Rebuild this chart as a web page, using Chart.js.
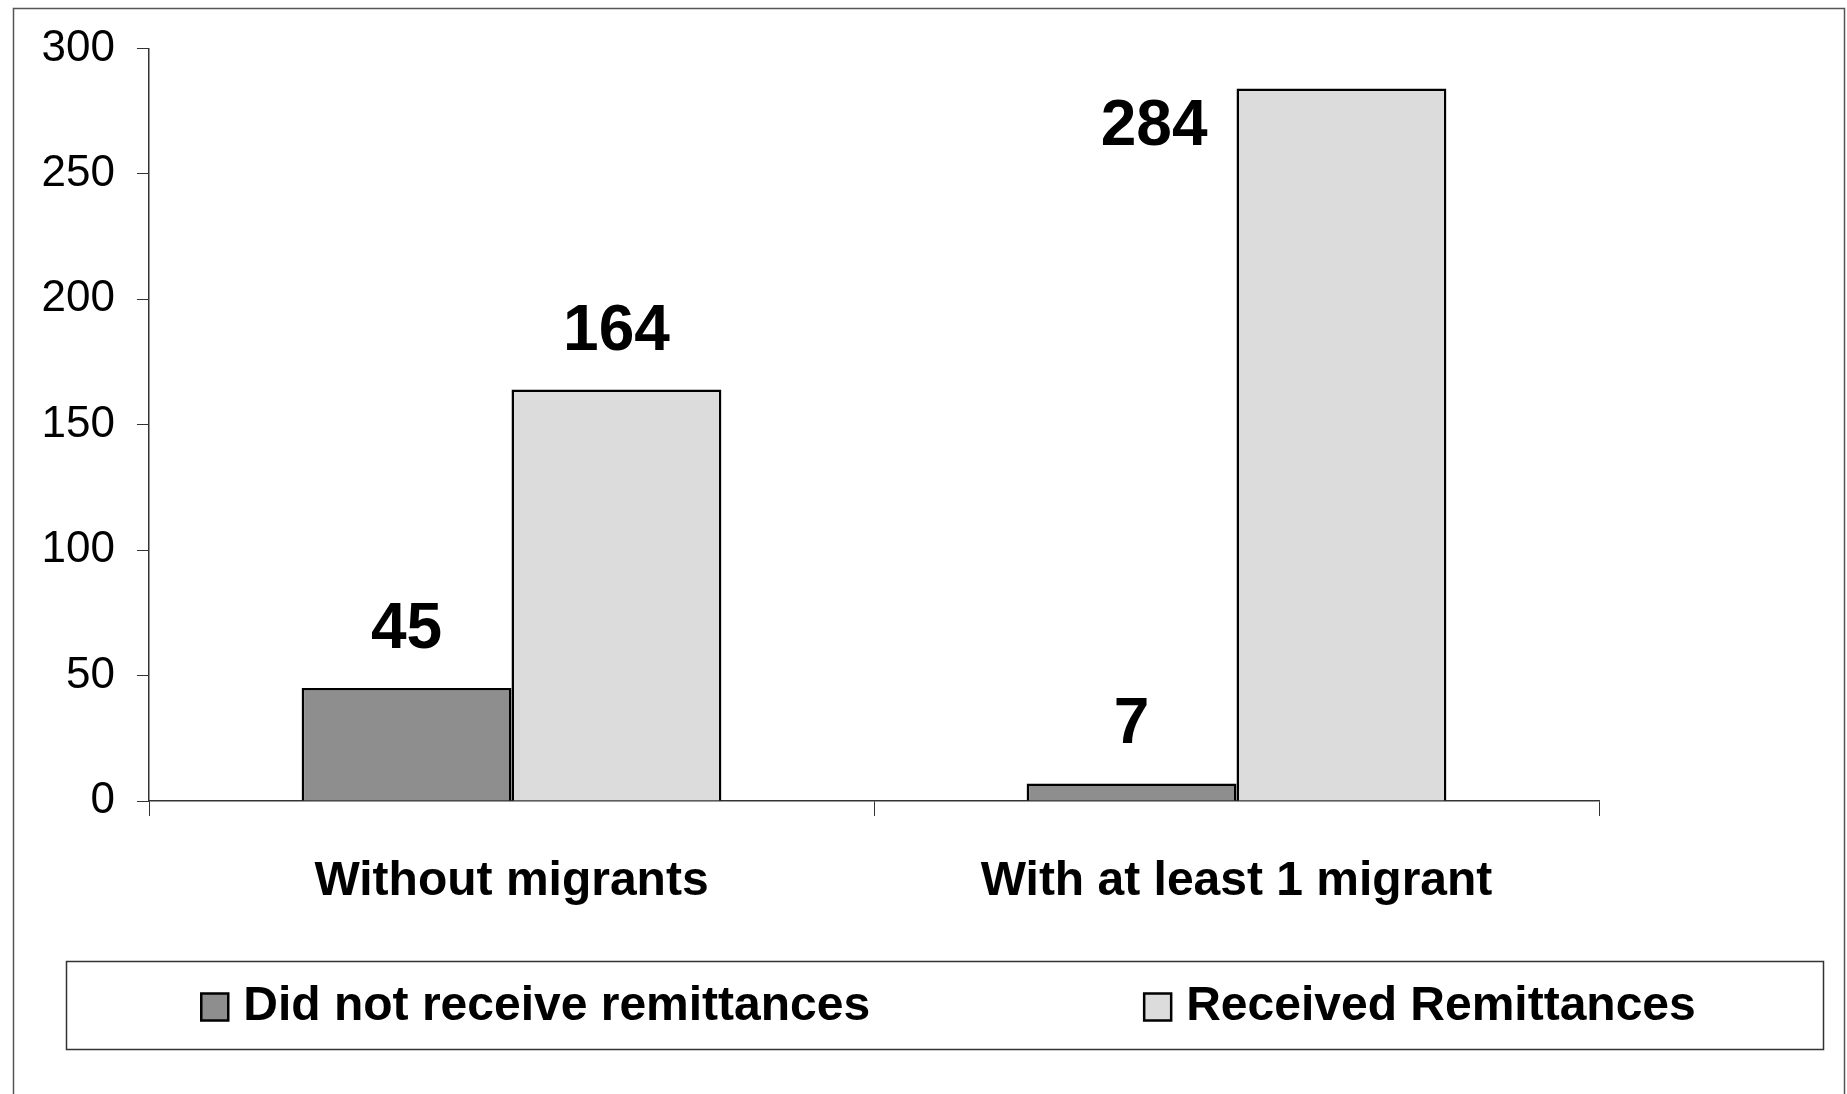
<!DOCTYPE html>
<html>
<head>
<meta charset="utf-8">
<title>Remittances by migrant status</title>
<script src="https://cdn.jsdelivr.net/npm/chart.js@4.4.1/dist/chart.umd.min.js"></script>
<style>
  body { margin: 0; background: #fff; }
  canvas { display: block; }
</style>
</head>
<body>
<canvas id="chart" width="1847" height="1094"></canvas>
<script>
// Data
const categories = ["Without migrants", "With at least 1 migrant"];
const seriesNames = ["Did not receive remittances", "Received Remittances"];
const notReceived = [45, 7];
const received = [164, 284];
const yTicks = [0, 50, 100, 150, 200, 250, 300];

const FONT = "'Liberation Sans', Arial, sans-serif";
const DARK = "#8e8e8e";
const LIGHT = "#dcdcdc";

// numbers above the bars (or beside, when there's no room on top)
const valueLabels = {
    id: "valueLabels",
    afterDatasetsDraw(chart) {
        const ctx = chart.ctx;
        ctx.save();
        ctx.font = "bold 64px " + FONT;
        ctx.fillStyle = "#000";
        ctx.textBaseline = "alphabetic";
        chart.data.datasets.forEach((ds, i) => {
            chart.getDatasetMeta(i).data.forEach((bar, j) => {
                const text = String(ds.data[j]);
                const baseline = bar.y - 40;
                if (baseline - 46 > chart.chartArea.top) {
                    ctx.textAlign = "center";
                    ctx.fillText(text, bar.x, baseline);
                } else {
                    ctx.textAlign = "right";
                    ctx.fillText(text, bar.x - bar.width / 2 - 29, bar.y + 56);
                }
            });
        });
        ctx.restore();
    }
};

// Excel-style legend in a box, plus the outer frame
const boxedLegend = {
    id: "boxedLegend",
    afterDraw(chart) {
        const ctx = chart.ctx;
        const box = { left: 66, top: 961, right: 1823, bottom: 1049 };
        ctx.save();

        ctx.strokeStyle = "#555";
        ctx.lineWidth = 1.5;
        ctx.strokeRect(13.5, 8.5, 1831, 1110);

        ctx.strokeStyle = "#333";
        ctx.lineWidth = 1.5;
        ctx.strokeRect(box.left + 0.5, box.top + 0.5, box.right - box.left, box.bottom - box.top);

        ctx.font = "bold 48px " + FONT;
        ctx.textBaseline = "middle";
        ctx.textAlign = "left";
        const sq = 27, gap = 15, spacing = 274;
        const items = chart.data.datasets.map(ds => ({
            label: ds.label,
            color: ds.backgroundColor,
            w: sq + gap + ctx.measureText(ds.label).width
        }));
        const total = items.reduce((s, it) => s + it.w, 0) + spacing * (items.length - 1);
        let x = (box.left + box.right) / 2 - total / 2 + 4;
        const cy = (box.top + box.bottom) / 2 + 2;
        items.forEach(it => {
            ctx.fillStyle = it.color;
            ctx.fillRect(x, cy - sq / 2, sq, sq);
            ctx.strokeStyle = "#000";
            ctx.lineWidth = 2.5;
            ctx.strokeRect(x, cy - sq / 2, sq, sq);
            ctx.fillStyle = "#000";
            ctx.fillText(it.label, x + sq + gap, cy);
            x += it.w + spacing;
        });
        ctx.restore();
    }
};

const ctx = document.getElementById("chart").getContext("2d");
new Chart(ctx, {
    type: "bar",
    data: {
        labels: categories,
        datasets: [
            {
                label: seriesNames[0],
                data: notReceived,
                backgroundColor: DARK,
                borderColor: "#000",
                borderWidth: 2.5,
                categoryPercentage: 0.579,
                barPercentage: 1.0
            },
            {
                label: seriesNames[1],
                data: received,
                backgroundColor: LIGHT,
                borderColor: "#000",
                borderWidth: 2.5,
                categoryPercentage: 0.579,
                barPercentage: 1.0
            }
        ]
    },
    options: {
        responsive: false,
        animation: false,
        layout: { padding: { left: 0, right: 248, top: 48, bottom: 0 } },
        plugins: {
            legend: { display: false },
            tooltip: { enabled: false }
        },
        scales: {
            x: {
                grid: { display: true, drawOnChartArea: false, drawTicks: true, tickLength: 15, color: "#333", offset: true },
                border: { display: true, color: "#333", width: 1.5 },
                ticks: { color: "#000", font: { family: FONT, size: 48, weight: "bold" }, padding: 37 },
                afterFit(scale) { scale.height = 293; }
            },
            y: {
                min: 0,
                max: 300,
                afterBuildTicks(scale) { scale.ticks = yTicks.map(v => ({ value: v })); },
                grid: { display: true, drawOnChartArea: false, drawTicks: true, tickLength: 12, color: "#333" },
                border: { display: true, color: "#333", width: 1.5 },
                ticks: { color: "#000", font: { family: FONT, size: 44 }, padding: 22 },
                afterFit(scale) { scale.width = 149; }
            }
        }
    },
    plugins: [valueLabels, boxedLegend]
});
</script>
</body>
</html>
